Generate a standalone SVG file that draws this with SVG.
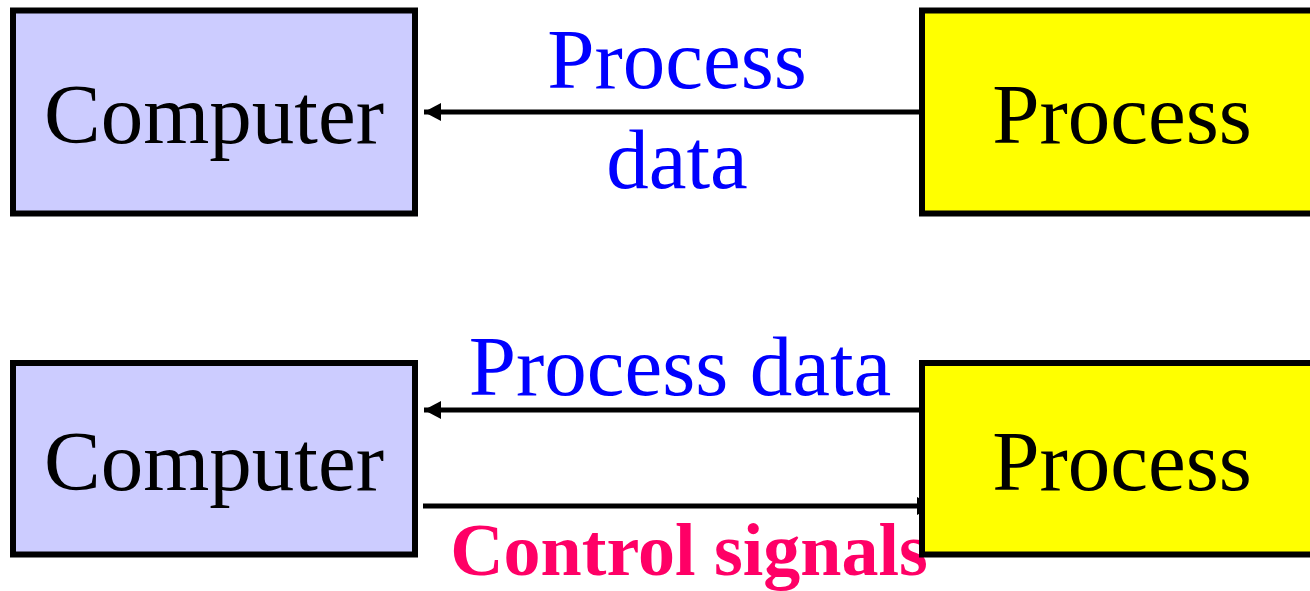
<svg xmlns="http://www.w3.org/2000/svg" width="1310" height="591" viewBox="0 0 1310 591">
  <style>
    .computer { fill: #ccccff; stroke: #000; stroke-width: 6; }
    .process { fill: #ffff00; stroke: #000; stroke-width: 6; }
    .name { font-family: "Liberation Serif", "Times New Roman", serif; font-size: 85px; fill: #000; text-anchor: middle; }
    .flow { font-family: "Liberation Serif", "Times New Roman", serif; font-size: 85px; fill: #0000ff; text-anchor: middle; }
    .ctrl { font-family: "Liberation Serif", "Times New Roman", serif; font-size: 74px; font-weight: bold; fill: #ff0066; text-anchor: middle; }
    .wire { stroke: #000; stroke-width: 5; fill: none; }
  </style>
  <defs>
    <marker id="head" markerUnits="userSpaceOnUse" markerWidth="18" markerHeight="20" refX="17" refY="9" orient="auto">
      <path d="M0,0 L17,9 L0,18 Z" fill="#000"/>
    </marker>
  </defs>

  <!-- connectors sit underneath the boxes -->
  <g id="connectors">
    <line class="wire" x1="920" y1="112" x2="424" y2="112" marker-end="url(#head)"/>
    <line class="wire" x1="920" y1="410" x2="424" y2="410" marker-end="url(#head)"/>
    <line class="wire" x1="423" y1="506" x2="934" y2="506" marker-end="url(#head)"/>
    <text class="flow" x="677" y="88">Process</text>
    <text class="flow" x="677" y="188">data</text>
    <text class="flow" x="680" y="395">Process data</text>
    <text class="ctrl" x="689" y="575">Control signals</text>
  </g>

  <!-- upper pair: data only -->
  <g id="computer-top">
    <rect class="computer" x="13" y="10.5" width="402" height="203"/>
    <text class="name" x="214" y="143">Computer</text>
  </g>
  <g id="process-top">
    <rect class="process" x="922" y="10.5" width="400" height="203"/>
    <text class="name" x="1122" y="143">Process</text>
  </g>

  <!-- lower pair: data plus control -->
  <g id="computer-bottom">
    <rect class="computer" x="13" y="363" width="402" height="191.5"/>
    <text class="name" x="214" y="490">Computer</text>
  </g>
  <g id="process-bottom">
    <rect class="process" x="922" y="363" width="400" height="191.5"/>
    <text class="name" x="1122" y="490">Process</text>
  </g>
</svg>
